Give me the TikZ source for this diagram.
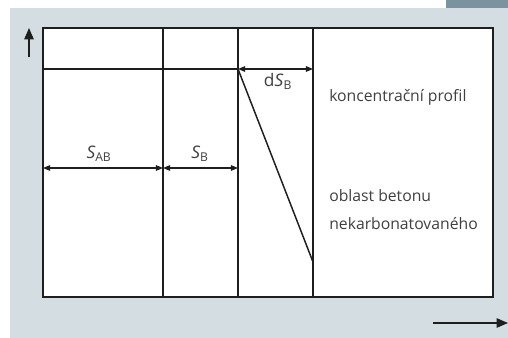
\documentclass[tikz,border=0pt]{standalone}
\usepackage{fontspec}
\setmainfont{Open Sans}
\usetikzlibrary{arrows.meta,positioning}
\definecolor{backdrop}{HTML}{D3DDE2}
\definecolor{tab}{HTML}{7B939F}
\definecolor{ink}{HTML}{1E1E1E}
\tikzset{
  wall/.style={draw=ink, line width=1.1pt},
  dim/.style={{Triangle[length=1.9mm,width=1.5mm]}-{Triangle[length=1.9mm,width=1.5mm]},
              line width=0.8pt, draw=ink},
  axis/.style={-{Triangle[length=3mm,width=2.5mm]}, line width=0.8pt, draw=ink},
  lbl/.style={font=\fontsize{11.8}{14}\selectfont, text=ink!85, inner sep=0pt},
  sym/.style={font=\fontsize{13}{15}\selectfont, text=ink!85, inner sep=0pt}
}
\begin{document}
\begin{tikzpicture}[x=0.75pt,y=-0.75pt]
        \useasboundingbox (0,0) rectangle (508,338);
        % background panel
        \fill[white] (0,0) rectangle (508,338);
        \fill[backdrop] (10,8) rectangle (508,338);
        \fill[tab] (446,0) rectangle (508,8);

        % frame and zone borders
        \draw[wall,fill=white] (43,28) rectangle (493,297);
        \foreach \x/\n in {163/1,238/2,313/3} {
          \coordinate (top\n) at (\x,28);
          \coordinate (bot\n) at (\x,297);
          \draw[wall] (top\n) -- (bot\n);
        }

        % level line, front width and profile
        \coordinate (lev0) at (43,69);
        \coordinate (lev2) at (238,69);
        \coordinate (lev3) at (313,69);
        \coordinate (foot) at (313,262);
        \draw[wall] (lev0) -- (lev2);
        \draw[dim] (lev2) -- (lev3);
        \draw[wall] (lev2) -- (foot);

        % zone widths
        \coordinate (w0) at (43,168);
        \coordinate (w1) at (163,168);
        \coordinate (w2) at (238,168);
        \draw[dim] (w0) -- (w1);
        \draw[dim] (w1) -- (w2);

        % labels
        \node[sym] (sab) at (99,154) {\itshape S\textsubscript{\upshape AB}};
        \node[sym] (sb) at (200,154) {\itshape S\textsubscript{\upshape B}};
        \node[sym] (dsb) at (278,81) {d\textit{S}\textsubscript{B}};
        \node[lbl,anchor=west] (prof) at (329,97) {koncentrační profil};
        \node[lbl,anchor=west] (obl) at (329,196) {oblast betonu};
        \node[lbl,anchor=west] (nek) at (329,224) {nekarbonatovaného};

        % axes
        \coordinate (up0) at (29,57);
        \coordinate (up1) at (29,28);
        \coordinate (rt0) at (433,323);
        \coordinate (rt1) at (508,323);
        \draw[axis] (up0) -- (up1);
        \draw[axis] (rt0) -- (rt1);
      \end{tikzpicture}
\end{document}
